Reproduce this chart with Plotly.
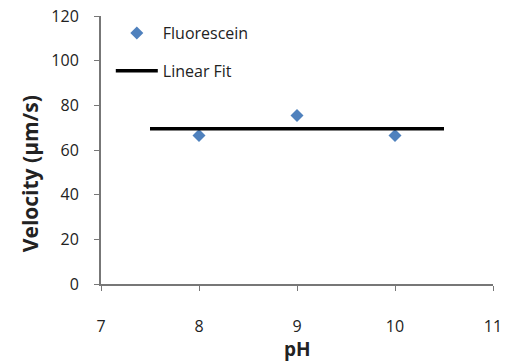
import plotly.graph_objects as go

ph = [8, 9, 10]
velocity = [66.5, 75.5, 66.5]
fit_x = [7.5, 10.5]
fit_y = [69.5, 69.5]
x_ticks = [7, 8, 9, 10, 11]
y_ticks = [0, 20, 40, 60, 80, 100, 120]

font = "Open Sans, Noto Sans, sans-serif"

fig = go.Figure()
fig.add_trace(go.Scatter(x=ph, y=velocity, mode="markers", name="Fluorescein",
                         legendgroup="a",
                         marker=dict(symbol="diamond", size=10, color="#4F81BD")))
fig.add_trace(go.Scatter(x=fit_x, y=fit_y, mode="lines", name="Linear Fit",
                         legendgroup="b",
                         line=dict(color="black", width=3.5)))

fig.update_layout(
    width=511, height=363,
    margin=dict(l=101, r=18, t=16, b=79),
    paper_bgcolor="white", plot_bgcolor="white",
    font=dict(family=font, color="#222222", size=16),
    legend=dict(x=0.025, y=1.0, xanchor="left", yanchor="top",
                bgcolor="rgba(0,0,0,0)", font=dict(size=16, color="#222222"),
                itemwidth=42, traceorder="grouped", tracegroupgap=14),
    showlegend=True,
    annotations=[
        dict(text="<b>Velocity (µm/s)</b>", xref="paper", yref="paper",
             x=-0.181, y=0.41, xanchor="center", yanchor="middle", textangle=-90,
             showarrow=False, font=dict(size=21, color="#222222")),
        dict(text="<b>pH</b>", xref="paper", yref="paper",
             x=0.5, y=-0.243, xanchor="center", yanchor="middle",
             showarrow=False, font=dict(size=19, color="#222222")),
    ],
)
fig.update_xaxes(
    range=[7, 11], tickvals=x_ticks, ticktext=[str(v) for v in x_ticks],
    showgrid=False, zeroline=False, showline=True, linecolor="#777777", linewidth=2,
    ticks="outside", ticklen=5, tickcolor="#777777", ticklabelstandoff=22,
    automargin=False, ticklabeloverflow="allow",
)
fig.update_yaxes(
    range=[0, 120], tickvals=y_ticks,
    showgrid=False, zeroline=False, showline=True, linecolor="#777777", linewidth=2,
    ticks="outside", ticklen=5, tickcolor="#777777", ticklabelstandoff=12,
    automargin=False, ticklabeloverflow="allow",
)

# remove the page's default 8px body margin so the figure fills the window exactly
fig.write_html("out.html", config={"displayModeBar": False},
               post_script="document.body.style.margin='0';")
